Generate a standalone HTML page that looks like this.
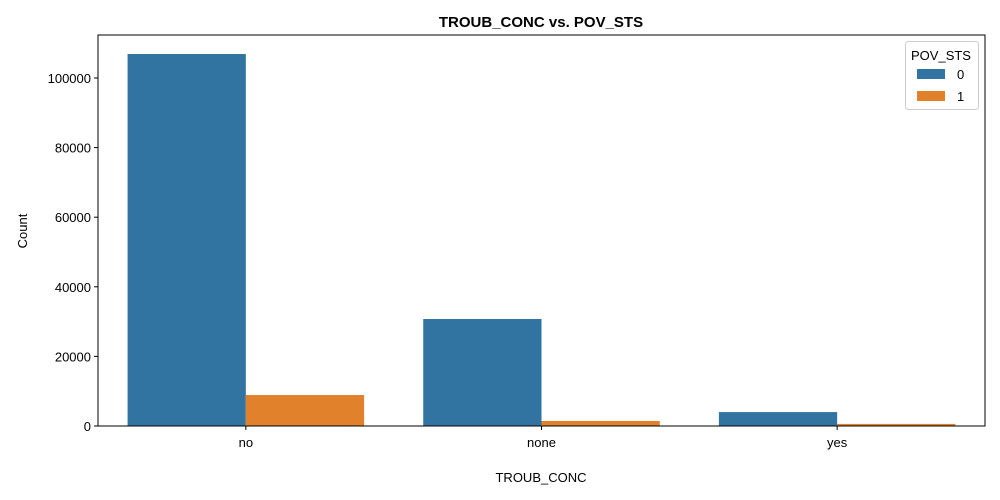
<!DOCTYPE html>
<html><head><meta charset="utf-8"><style>body{margin:0;background:#fff}svg{display:block;font-family:"Liberation Sans",sans-serif}</style></head>
<body>
<svg id="c" width="1000" height="500"></svg>
<script>
const categories=["no","none","yes"];
const series0=[106900,30750,4000];
const series1=[8900,1440,600];
const yTicks=[0,20000,40000,60000,80000,100000];
const NS="http://www.w3.org/2000/svg";
const svg=document.getElementById('c');
const L=98,R=985,T=35,B=426;
const y=v=>B-v*(B-78)/100000;
const step=(R-L)/categories.length;
const cx=i=>L+step*(i+0.5);
const bw=step*0.8/2;
function mk(t,a,txt){const e=document.createElementNS(NS,t);for(const k in a)e.setAttribute(k,a[k]);if(txt!==undefined)e.textContent=txt;svg.appendChild(e);return e;}
categories.forEach((c,i)=>{
 const b0=mk('rect',{x:cx(i)-bw,y:y(series0[i]),width:bw,height:B-y(series0[i]),fill:'#3274a1'});
 
 
 const b1=mk('rect',{x:cx(i),y:y(series1[i]),width:bw,height:B-y(series1[i]),fill:'#e1812c'});
 
 
 mk('line',{x1:cx(i),x2:cx(i),y1:B,y2:B+4,stroke:'#000'});
 const t=mk('text',{x:cx(i),y:B+21,'text-anchor':'middle','font-size':13},c);
 
 
});
yTicks.forEach(v=>{
 mk('line',{x1:L-4,x2:L,y1:y(v),y2:y(v),stroke:'#000'});
 const t=mk('text',{x:L-7,y:y(v)+5,'text-anchor':'end','font-size':13},v);
 
 
});
mk('rect',{x:L,y:T,width:R-L,height:B-T,fill:'none',stroke:'#000','stroke-width':1});
</script>
<svg style="position:absolute;left:0;top:0" width="1000" height="500">
<text x="541" y="27" text-anchor="middle" font-size="15" font-weight="bold">TROUB_CONC vs. POV_STS</text>
<text x="541" y="482" text-anchor="middle" font-size="13">TROUB_CONC</text>
<text x="27" y="231" text-anchor="middle" font-size="13" transform="rotate(-90 27 231)">Count</text>
<g>
<rect x="905.5" y="41.5" width="73" height="68" rx="3" fill="#fff" stroke="#ccc"/>
<text x="941" y="60" text-anchor="middle" font-size="13">POV_STS</text>
<rect x="917" y="69" width="28" height="10" fill="#3274a1"/>
<text x="957" y="79" font-size="13">0</text>
<rect x="917" y="91" width="28" height="10" fill="#e1812c"/>
<text x="957" y="101" font-size="13">1</text>
</g>
</svg>
</body></html>
